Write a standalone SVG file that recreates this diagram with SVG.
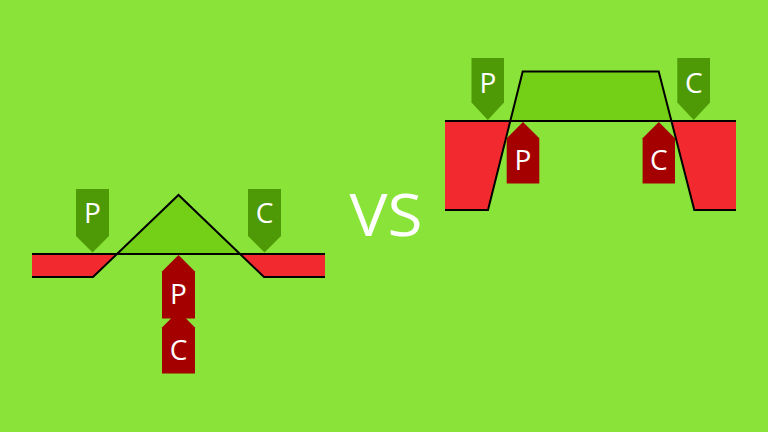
<svg xmlns="http://www.w3.org/2000/svg" width="768" height="432" viewBox="0 0 768 432">
<style>
.bg{fill:#8ae339}
.red{fill:#f2292e}
.lite{fill:#73d016}
.ln{fill:none;stroke:#000;stroke-width:2;stroke-linejoin:miter}
.gt{fill:#4e9a06}
.rt{fill:#a40000}
.lbl{font-family:"Open Sans","DejaVu Sans",sans-serif;font-size:28px;fill:#fff;text-anchor:middle}
.vs{font-family:"Open Sans","DejaVu Sans",sans-serif;font-size:58px;fill:#fff;text-anchor:middle}
</style>
<rect class="bg" x="0" y="0" width="768" height="432"/>

<g id="left-profile">
<polygon class="red" points="32,254 117,254 93,277 32,277"/>
<polygon class="red" points="240,254 325,254 325,277 264,277"/>
<polygon class="lite" points="178.5,195 117,254 240,254"/>
</g>
<g id="right-profile">
<polygon class="red" points="445,121 510.3,121 488,210 445,210"/>
<polygon class="red" points="671.4,121 736,121 736,210 694.3,210"/>
<polygon class="lite" points="522.7,71.5 658.7,71.5 671.4,121 510.3,121"/>
</g>

<g id="connectors">
<line class="ln" x1="32" y1="254" x2="325" y2="254"/>
<polyline class="ln" points="32,277 93,277 178.5,195 264,277 325,277"/>
<line class="ln" x1="445" y1="121" x2="736" y2="121"/>
<polyline class="ln" points="445,210 488,210 522.7,71.5 658.7,71.5 694.3,210 736,210"/>
</g>

<g id="left-p-top">
<polygon class="gt" points="76,189 109,189 109,236 92.5,252.5 76,236"/>
<text class="lbl" x="92.5" y="223">P</text>
</g>
<g id="left-c-top">
<polygon class="gt" points="248,189 281,189 281,236 264.5,252.5 248,236"/>
<text class="lbl" x="264.5" y="223">C</text>
</g>
<g id="left-c-bottom">
<polygon class="rt" points="178.5,311 195,327.5 195,373.5 162,373.5 162,327.5"/>
<text class="lbl" x="178.5" y="360">C</text>
</g>
<g id="left-p-bottom">
<polygon class="rt" points="178.5,255 195,271.5 195,318.5 162,318.5 162,271.5"/>
<text class="lbl" x="178.5" y="303.5">P</text>
</g>

<g id="vs">
<text class="vs" x="386" y="236" textLength="73" lengthAdjust="spacingAndGlyphs">VS</text>
</g>

<g id="right-p-top">
<polygon class="gt" points="471.5,58 504,58 504,102.5 487.8,120 471.5,102.5"/>
<text class="lbl" x="487.8" y="93">P</text>
</g>
<g id="right-c-top">
<polygon class="gt" points="677.3,58 710,58 710,102.5 693.7,120 677.3,102.5"/>
<text class="lbl" x="693.7" y="93">C</text>
</g>
<g id="right-p-bottom">
<polygon class="rt" points="523,122 539.3,138.3 539.3,183.5 506.7,183.5 506.7,138.3"/>
<text class="lbl" x="523" y="170">P</text>
</g>
<g id="right-c-bottom">
<polygon class="rt" points="658.8,122 675,138.3 675,183.5 642.6,183.5 642.6,138.3"/>
<text class="lbl" x="658.8" y="170">C</text>
</g>
</svg>
